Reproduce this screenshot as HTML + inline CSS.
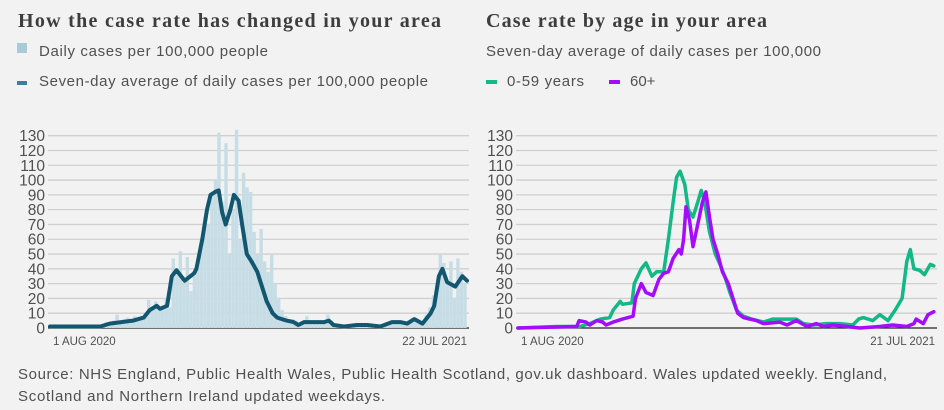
<!DOCTYPE html>
<html><head><meta charset="utf-8"><style>
html,body{margin:0;padding:0;background:#f2f2f2;}
svg{display:block;font-family:"Liberation Sans",sans-serif;}
</style></head><body>
<svg id="s" width="944" height="410" viewBox="0 0 944 410">
<rect width="944" height="410" fill="#f2f2f2"/>
<text x="18" y="27" font-family="Liberation Serif, serif" font-weight="bold" font-size="20" fill="#3d3d3d" textLength="423">How the case rate has changed in your area</text>
<rect x="17" y="43" width="10" height="10" fill="#a9cbd8"/>
<text x="39" y="56" font-size="15" fill="#505050" textLength="229">Daily cases per 100,000 people</text>
<rect x="17" y="81" width="10" height="4" fill="#3a7ea0"/>
<text x="39" y="86" font-size="15" fill="#505050" textLength="389">Seven-day average of daily cases per 100,000 people</text>
<text x="486" y="27" font-family="Liberation Serif, serif" font-weight="bold" font-size="20" fill="#3d3d3d" textLength="281">Case rate by age in your area</text>
<text x="486" y="56" font-size="15" fill="#505050" textLength="335">Seven-day average of daily cases per 100,000</text>
<rect x="486" y="80" width="11" height="4" fill="#12b886"/>
<text x="507" y="86" font-size="15" fill="#505050" textLength="77">0-59 years</text>
<rect x="609" y="80" width="11" height="4" fill="#a40cff"/>
<text x="630" y="86" font-size="15" fill="#505050">60+</text>
<g id="L"></g><g id="R"></g>
<text x="18" y="379" font-size="15" fill="#505050" textLength="869">Source: NHS England, Public Health Wales, Public Health Scotland, gov.uk dashboard. Wales updated weekly. England,</text>
<text x="18" y="401" font-size="15" fill="#505050" textLength="367">Scotland and Northern Ireland updated weekdays.</text>
</svg>
<script>
const yTicks=[0,10,20,30,40,50,60,70,80,90,100,110,120,130];
const barDays=[];for(let i=0;i<119;i++)barDays.push(i*3);
const barValues=[1,1,1,1,0,1,1,1,2,1,1,2,1,2,2,
3,4,3,5,9,4,6,7,5,8,6,7,9,19,
14,18,12,15,20,14,47,40,52,30,48,25,35,44,
60,73,70,90,100,132,85,125,50,80,134,60,105,95,
92,65,50,67,45,38,50,30,20,12,8,6,6,5,
3,5,8,4,5,4,5,5,9,5,3,1,2,1,
2,2,3,2,2,3,2,2,1,2,1,2,5,4,
4,5,3,5,6,7,5,4,9,14,22,30,50,44,
30,45,20,47,38,30];
const avgDays=[0,43,51,71,80,85,91,94,100,104,108,115,123,125,130,134,137,141,144,147,150,154,157,161,164,168,172,177,181,185,190,194,202,208,212,217,225,234,238,242,251,262,271,282,292,299,305,311,318,325,328,332,335,339,346,352,356];
const avgValues=[1,1,3,5,7,12,15,13,15,35,39,32,37,40,60,80,90,92,93,78,70,80,90,86,70,50,45,38,28,18,10,7,5,4,2,4,4,4,5,2,1,2,2,1,4,4,3,6,3,10,15,35,40,31,28,35,32];
const youngDays=[0,33,53,61,70,78,81,87,89,97,99,105,109,114,118,124,128,132,135,138,142,145,149,153,156,159,163,168,172,176,180,186,192,199,209,217,231,237,243,251,263,274,285,290,294,302,308,315,321,327,331,334,337,342,346,351,354];
const youngValues=[0,1,1,3,6,7,12,18,16,17,30,40,44,35,38,38,60,85,102,106,97,80,75,85,93,85,65,50,43,35,25,12,8,6,4,6,6,6,3,2,3,3,2,6,7,5,9,5,12,20,45,53,40,39,36,43,42];
const oldDays=[0,50,52,58,61,67,72,75,81,89,98,100,105,109,115,120,124,128,132,137,139,141,143,146,149,153,157,160,163,166,170,174,179,183,187,192,197,203,209,223,229,237,246,254,260,268,280,291,308,319,331,337,339,345,349,354];
const oldValues=[0,1,5,4,2,5,4,2,4,6,8,20,30,24,22,33,37,38,47,53,50,60,82,73,55,70,85,92,75,60,50,38,30,20,10,7,6,5,3,4,2,5,1,3,1,2,1,0,1,2,1,3,6,3,9,11];
const NS='http://www.w3.org/2000/svg';
function mk(tag,attrs,parent){const e=document.createElementNS(NS,tag);for(const k in attrs)e.setAttribute(k,attrs[k]);parent.appendChild(e);return e;}
function panel(g,x0,x1,maxDay,labelX,startLab,endLab,name){
  const y=v=>328-v*(328-135.7)/130;
  const x=d=>x0+(x1-x0)*d/maxDay;
  yTicks.forEach(t=>{
    const l=mk('line',{x1:x0-2,x2:x1+2,y1:y(t),y2:y(t),stroke:t===0?'#222':'#cfcfcf','stroke-width':t===0?1.2:1.3},g);
    
    
    const tx=mk('text',{x:labelX,y:y(t)+5.5,'text-anchor':'end','font-size':15.5,fill:'#505050'},g);
    tx.textContent=t;
    
    
  });
  const a=mk('text',{x:x0+3,y:345,'font-size':11.5,fill:'#505050'},g);a.textContent=startLab;
  
  
  const b=mk('text',{x:x1,y:345,'font-size':11.5,fill:'#505050','text-anchor':'end'},g);b.textContent=endLab;
  
  
  return {x,y};
}
function line(g,ax,days,vals,color,w,name){
  const d=days.map((dd,i)=>(i?'L':'M')+ax.x(dd).toFixed(1)+','+ax.y(vals[i]).toFixed(1)).join('');
  const p=mk('path',{d:d,fill:'none',stroke:color,'stroke-width':w,'stroke-linejoin':'round','stroke-linecap':'round'},g);
  
  
}
const L=document.getElementById('L'),R=document.getElementById('R');
const la=panel(L,50,467,356,45,'1 AUG 2020','22 JUL 2021','left');
barDays.forEach((d,i)=>{
  const r=mk('rect',{x:la.x(d)-1.4,y:la.y(barValues[i]),width:3.4,height:la.y(0)-la.y(barValues[i]),fill:'#c6dde6'},L);
  
  
});
line(L,la,avgDays,avgValues,'#12566f',4,'seven-day-average-line');
const ra=panel(R,518,935,355,513,'1 AUG 2020','21 JUL 2021','right');
line(R,ra,youngDays,youngValues,'#12b886',3.5,'age-0-59-line');
line(R,ra,oldDays,oldValues,'#a40cff',3.5,'age-60-plus-line');
</script>
</body></html>
